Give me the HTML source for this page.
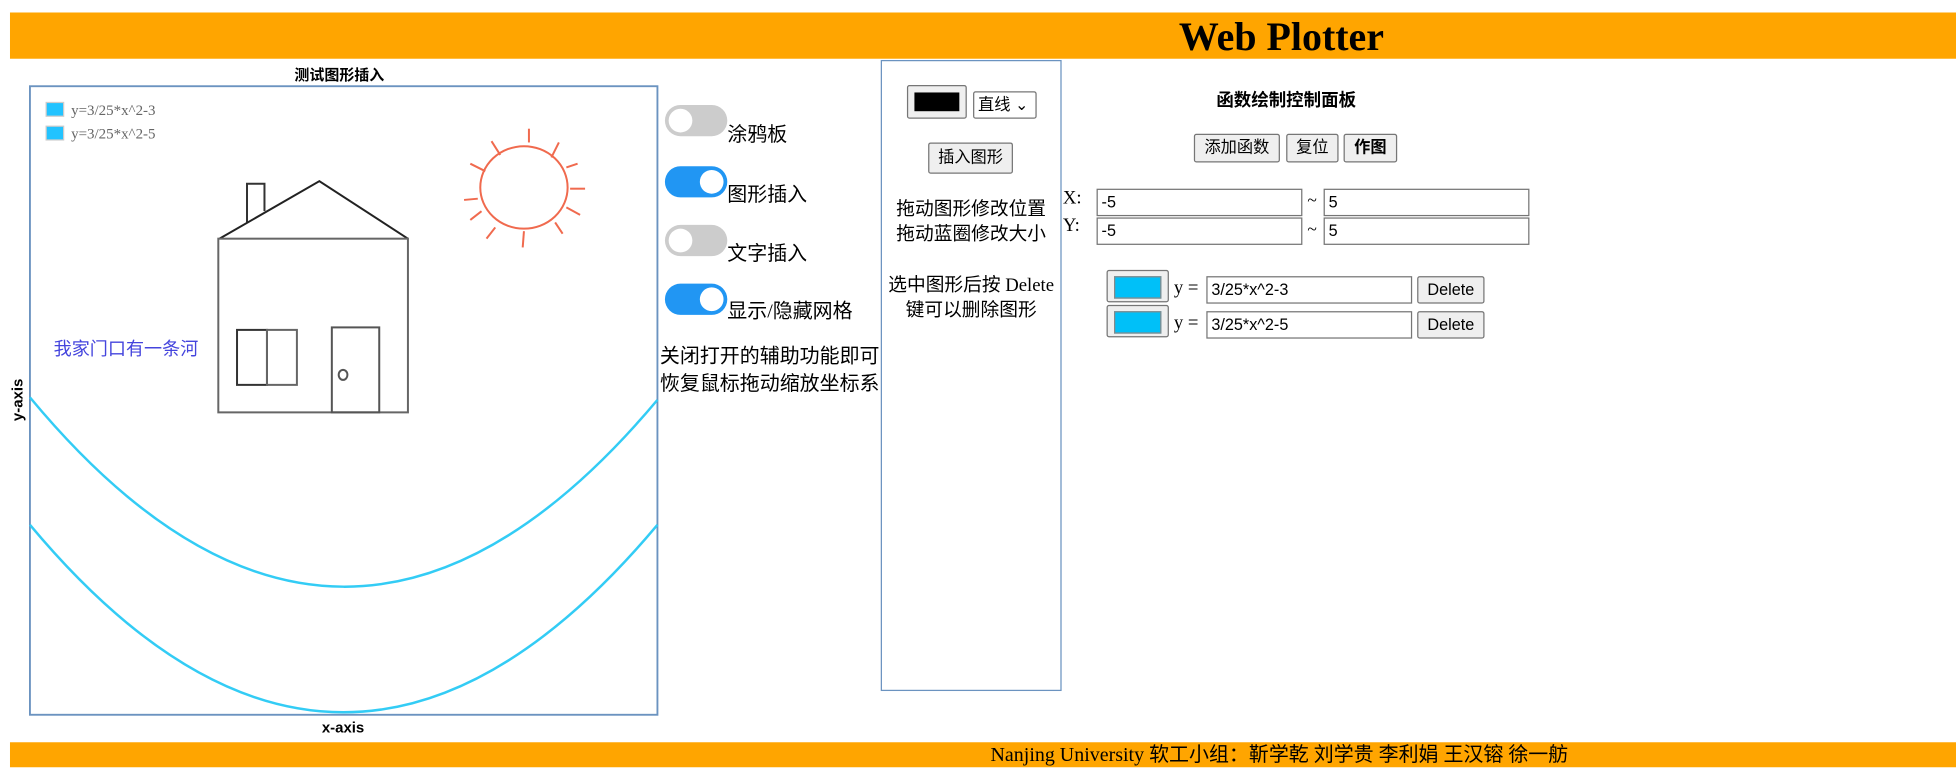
<!DOCTYPE html>
<html><head><meta charset="utf-8"><style>
html,body{margin:0;padding:0;background:#fff;width:1956px;height:776px;overflow:hidden}
#w{position:absolute;left:0;top:0;width:1568px;height:621px;transform:scale(1.2475,1.2496);transform-origin:0 0;font-family:"Liberation Serif","Noto Sans CJK SC",serif;color:#000}
.a{position:absolute;white-space:nowrap}
.sans{font-family:"Liberation Sans","Noto Sans CJK SC",sans-serif}
.tg{position:absolute;width:50px;height:25px;border-radius:13px}
.tg i{position:absolute;top:3px;width:19px;height:19px;border-radius:50%;background:#fff}
.btn{position:absolute;background:#efefef;border:1px solid #767676;border-radius:2px;font-family:"Liberation Sans","Noto Sans CJK SC",sans-serif;font-size:13px;text-align:center;box-sizing:border-box}
.inp{position:absolute;border:1px solid #767676;box-sizing:border-box;font-family:"Liberation Sans",sans-serif;font-size:13px;padding:2px 3px;background:#fff}
.zh{font-family:"Liberation Serif","Noto Sans CJK SC",sans-serif;font-size:15px}
</style></head><body><div id="w">
<div class="a" style="left:8px;top:10px;width:1560px;height:37px;background:#FFA500"></div>
<div class="a" style="left:945px;top:11px;font-size:32px;font-weight:bold;line-height:36px">Web Plotter</div>

<div class="a sans" style="left:236px;top:51px;font-size:12px;font-weight:bold">测试图形插入</div>
<svg class="a" style="left:0;top:60px" width="540" height="535" viewBox="0 60 540 535">
<rect x="24" y="69" width="503" height="503" fill="#fff" stroke="#6b93c0" stroke-width="1.5"/>
<rect x="37" y="82" width="14" height="11" fill="#22c3ff" stroke="#ccc"/>
<rect x="37" y="101" width="14" height="11" fill="#22c3ff" stroke="#ccc"/>
<text x="57" y="92" font-family="Liberation Serif" font-size="12" fill="#666">y=3/25*x^2-3</text>
<text x="57" y="111" font-family="Liberation Serif" font-size="12" fill="#666">y=3/25*x^2-5</text>
<g fill="none" stroke-width="1.6">
<polyline points="198,178 198,147 212,147 212,169" stroke="#333"/>
<polyline points="176,191 256,145 327,191" stroke="#222"/>
<rect x="175" y="191" width="152" height="139" stroke="#666"/>
<rect x="190" y="264" width="24" height="44" stroke="#333"/>
<rect x="214" y="264" width="24" height="44" stroke="#666"/>
<rect x="266" y="262" width="38" height="68" stroke="#555"/>
<ellipse cx="275" cy="300" rx="3.5" ry="4" stroke="#555"/>
<ellipse cx="420" cy="150" rx="35" ry="33" stroke="#f06a4e"/>
<g stroke="#f06a4e"><line x1="424" y1="103" x2="424" y2="114"/><line x1="448" y1="114" x2="442" y2="126"/><line x1="463" y1="131" x2="454" y2="134"/><line x1="469" y1="151" x2="457" y2="151"/><line x1="465" y1="172" x2="454" y2="166"/><line x1="451" y1="187" x2="445" y2="178"/><line x1="419" y1="198" x2="420" y2="185"/><line x1="390" y1="191" x2="397" y2="182"/><line x1="377" y1="176" x2="386" y2="169"/><line x1="372" y1="160" x2="383" y2="159"/><line x1="377" y1="131" x2="389" y2="137"/><line x1="394" y1="113" x2="401" y2="124"/></g>
<path d="M24,318 Q275,620 527,320" stroke="#33ccf5" stroke-width="2"/>
<path d="M24,420 Q275,720 527,420" stroke="#33ccf5" stroke-width="2"/>
</g>
<text x="43" y="284" font-family="Liberation Sans,Noto Sans CJK SC" font-size="14.5" fill="#4444dd">我家门口有一条河</text>
<text x="275" y="586" font-family="Liberation Sans" font-size="12" font-weight="bold" text-anchor="middle">x-axis</text>
<text transform="translate(18,320) rotate(-90)" font-family="Liberation Sans" font-size="12" font-weight="bold" text-anchor="middle">y-axis</text>
</svg>

<div class="tg" style="left:533px;top:84px;background:#ccc"><i style="left:3px"></i></div>
<div class="a zh" style="left:583px;top:94px;font-size:16px">涂鸦板</div>
<div class="tg" style="left:533px;top:133px;background:#2196F3"><i style="left:28px"></i></div>
<div class="a zh" style="left:583px;top:142px;font-size:16px">图形插入</div>
<div class="tg" style="left:533px;top:180px;background:#ccc"><i style="left:3px"></i></div>
<div class="a zh" style="left:583px;top:189px;font-size:16px">文字插入</div>
<div class="tg" style="left:533px;top:227px;background:#2196F3"><i style="left:28px"></i></div>
<div class="a zh" style="left:583px;top:235px;font-size:16px">显示/隐藏网格</div>
<div class="a zh" style="left:529px;top:275px;line-height:22px;font-size:16px">关闭打开的辅助功能即可<br>恢复鼠标拖动缩放坐标系</div>

<div class="a" style="left:706px;top:48px;width:143px;height:503px;border:1.5px solid #6b93c0"></div>
<div class="btn" style="left:727px;top:68px;width:48px;height:27px;padding:5px 5px"><div style="background:#000;height:15px"></div></div>
<div class="btn" style="left:780px;top:73px;width:51px;height:22px;background:#fff;line-height:19px;text-align:left;padding-left:3px">直线 ⌄</div>
<div class="btn" style="left:744px;top:114px;width:68px;height:25px;line-height:22px">插入图形</div>
<div class="a zh" style="left:706px;top:158px;width:145px;text-align:center;line-height:20px">拖动图形修改位置<br>拖动蓝圈修改大小</div>
<div class="a zh" style="left:706px;top:219px;width:145px;text-align:center;line-height:20px">选中图形后按 Delete<br>键可以删除图形</div>

<div class="a sans" style="left:975px;top:70px;font-size:14px;font-weight:bold">函数绘制控制面板</div>
<div class="btn" style="left:957px;top:107px;width:69px;height:23px;line-height:20px">添加函数</div>
<div class="btn" style="left:1031px;top:107px;width:42px;height:23px;line-height:20px">复位</div>
<div class="btn" style="left:1077px;top:107px;width:43px;height:23px;line-height:20px;font-weight:bold">作图</div>
<div class="a" style="left:852px;top:151px;font-size:15px">X:</div>
<div class="a" style="left:852px;top:173px;font-size:15px">Y:</div>
<div class="inp" style="left:879px;top:151px;width:165px;height:22px">-5</div>
<div class="inp" style="left:1061px;top:151px;width:165px;height:22px">5</div>
<div class="inp" style="left:879px;top:174px;width:165px;height:22px">-5</div>
<div class="inp" style="left:1061px;top:174px;width:165px;height:22px">5</div>
<div class="a" style="left:1048px;top:154px;font-size:14px">~</div>
<div class="a" style="left:1048px;top:177px;font-size:14px">~</div>
<div class="btn" style="left:887px;top:216px;width:50px;height:26px;padding:4px 5px"><div style="background:#00c0f8;height:16px;border:1px solid #888"></div></div>
<div class="btn" style="left:887px;top:244px;width:50px;height:26px;padding:4px 5px"><div style="background:#00c0f8;height:16px;border:1px solid #888"></div></div>
<div class="a" style="left:941px;top:223px;font-size:15px">y =</div>
<div class="a" style="left:941px;top:251px;font-size:15px">y =</div>
<div class="inp" style="left:967px;top:221px;width:165px;height:22px">3/25*x^2-3</div>
<div class="inp" style="left:967px;top:249px;width:165px;height:22px">3/25*x^2-5</div>
<div class="btn" style="left:1136px;top:221px;width:54px;height:22px;line-height:19px">Delete</div>
<div class="btn" style="left:1136px;top:249px;width:54px;height:22px;line-height:19px">Delete</div>

<div class="a" style="left:8px;top:594px;width:1560px;height:20px;background:#FFA500"></div>
<div class="a zh" style="left:794px;top:595px;line-height:19px;font-size:16px">Nanjing University 软工小组：靳学乾 刘学贵 李利娟 王汉镕 徐一舫</div>
</div></body></html>
